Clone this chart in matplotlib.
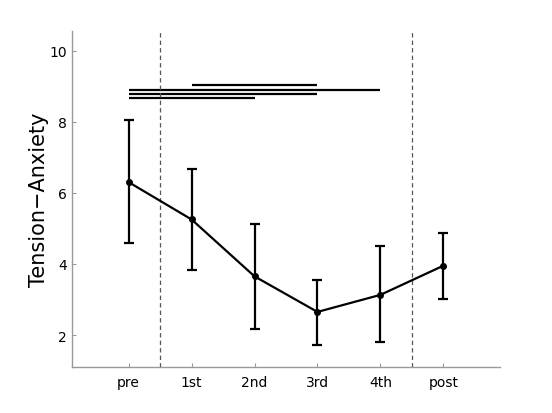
import matplotlib.pyplot as plt

# session labels and Tension-Anxiety scores
sessions = ["pre", "1st", "2nd", "3rd", "4th", "post"]
means = [6.30, 5.25, 3.65, 2.65, 3.13, 3.95]
upper = [8.05, 6.68, 5.12, 3.56, 4.50, 4.88]
lower = [4.59, 3.84, 2.16, 1.71, 1.80, 3.02]

# significance bars: (start session, end session, height)
sig_start = [2, 1, 1, 1]
sig_end = [4, 5, 4, 3]
sig_y = [9.03, 8.90, 8.79, 8.67]

# dashed separators between phases
separators = [1.5, 5.5]

x = list(range(1, len(sessions) + 1))
err_lo = [m - l for m, l in zip(means, lower)]
err_hi = [u - m for m, u in zip(means, upper)]

fig = plt.figure(figsize=(5.52, 4.14), dpi=100)
ax = fig.add_axes([0.1304, 0.111, 0.7754, 0.8117])

ax.errorbar(x, means, yerr=[err_lo, err_hi], color="black", lw=1.6,
            elinewidth=1.6, capsize=3.5, capthick=1.6,
            marker="o", markersize=4)

for s, e, h in zip(sig_start, sig_end, sig_y):
    ax.plot([s, e], [h, h], color="black", lw=1.6, solid_capstyle="butt")

for sx in separators:
    ax.axvline(sx, color="#555555", lw=0.9, ls=(0, (3.5, 2.5)))

ax.set_xlim(0.1, 6.9)
ax.set_ylim(1.1, 10.55)
ax.set_xticks(x)
ax.set_xticklabels(sessions)
ax.set_yticks([2, 4, 6, 8, 10])

for side in ["top", "right"]:
    ax.spines[side].set_visible(False)
for side in ["left", "bottom"]:
    ax.spines[side].set_color("#999999")
    ax.spines[side].set_linewidth(1.0)

ax.tick_params(direction="in", length=3, color="#999999", labelsize=10,
               labelcolor="black")
ax.tick_params(axis="x", pad=6)
ax.set_ylabel("Tension\u2212Anxiety", fontsize=15, labelpad=0)

fig.savefig("out.png", dpi=100)
